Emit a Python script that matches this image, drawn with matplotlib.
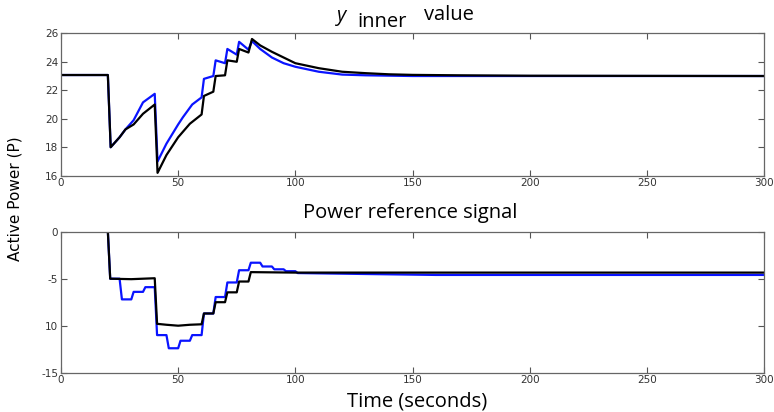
import matplotlib
matplotlib.use("Agg")
import matplotlib.pyplot as plt
import numpy as np

# top panel: y_inner value
t_top_black = [0, 20, 21.2, 25, 27.5, 31, 35, 40, 41.2, 45, 50, 55, 60, 61, 65, 66, 70, 71, 75, 76, 80, 81.5,
               85, 90, 95, 100, 110, 120, 130, 140, 150, 170, 200, 300]
v_top_black = [23.07, 23.07, 18.0, 18.7, 19.25, 19.6, 20.35, 21.0, 16.2, 17.45, 18.7, 19.65, 20.3, 21.6, 21.9,
               23.0, 23.05, 24.1, 24.0, 24.9, 24.65, 25.6, 25.15, 24.7, 24.3, 23.9, 23.55, 23.3, 23.2, 23.12,
               23.08, 23.05, 23.02, 23.0]

t_top_blue = [0, 20, 21.2, 25, 27.5, 31, 35, 40, 41.2, 45, 50, 52, 56, 60, 61, 65, 66, 70, 71, 75, 76, 80, 81.5,
              85, 90, 95, 100, 110, 120, 130, 150, 200, 300]
v_top_blue = [23.07, 23.07, 18.0, 18.7, 19.25, 19.9, 21.15, 21.75, 17.0, 18.25, 19.6, 20.1, 21.0, 21.5, 22.8,
              23.0, 24.1, 23.9, 24.9, 24.5, 25.4, 24.85, 25.45, 24.9, 24.3, 23.9, 23.65, 23.3, 23.1, 23.05,
              23.0, 23.0, 23.0]

# bottom panel: power reference signal
t_bot_black = [20, 21, 30, 40, 41, 45, 50, 55, 60, 61, 65, 66, 70, 71, 75, 76, 80, 81, 100, 300]
v_bot_black = [0, -5, -5.05, -4.95, -9.8, -9.9, -10.0, -9.9, -9.85, -8.7, -8.7, -7.5, -7.5, -6.45, -6.45,
               -5.3, -5.3, -4.3, -4.35, -4.35]

t_bot_blue = [20, 21, 25, 26, 30, 31, 35, 36, 40, 41, 45, 46, 50, 51, 55, 56, 60, 61, 65, 66, 70, 71, 75,
              76, 80, 81, 85, 86, 90, 91, 95, 96, 100, 101, 130, 160, 300]
v_bot_blue = [0, -5, -5, -7.2, -7.2, -6.4, -6.4, -5.9, -5.9, -11, -11, -12.4, -12.4, -11.6, -11.6, -11, -11,
              -8.7, -8.7, -6.95, -6.95, -5.4, -5.4, -4.1, -4.1, -3.3, -3.3, -3.7, -3.7, -4.0, -4.0, -4.2, -4.2,
              -4.4, -4.5, -4.6, -4.6]

x_ticks = [0, 50, 100, 150, 200, 250, 300]
top_yticks = [16, 18, 20, 22, 24, 26]
bot_yticks = [0, -5, -10, -15]
bot_yticklabels = ["0", "-5", "10", "-15"]

tick_font = ["Liberation Sans Narrow", "DejaVu Sans"]
text_font = ["Open Sans", "DejaVu Sans"]
blue = "#0a14ff"

fig = plt.figure(figsize=(7.74, 4.12), dpi=100)
ax1 = fig.add_axes([0.0788, 0.5735, 0.9083, 0.3457])
ax2 = fig.add_axes([0.0788, 0.0954, 0.9083, 0.3422])

ax1.plot(t_top_blue, v_top_blue, color=blue, lw=1.6)
ax1.plot(t_top_black, v_top_black, color="black", lw=1.6)
ax2.plot(t_bot_blue, v_bot_blue, color=blue, lw=1.6)
ax2.plot(t_bot_black, v_bot_black, color="black", lw=1.6)

ax1.set_ylim(16, 26)
ax1.set_yticks(top_yticks)
ax2.set_ylim(-15, 0)
ax2.set_yticks(bot_yticks)
ax2.set_yticklabels(bot_yticklabels)

for ax in (ax1, ax2):
    ax.set_xlim(0, 300)
    ax.set_xticks(x_ticks)
    ax.tick_params(direction="in", top=True, right=True, length=4, width=0.8,
                   color="#555555", labelsize=7.5, labelcolor="#333333", pad=2)
    for lab in ax.get_xticklabels() + ax.get_yticklabels():
        lab.set_family(tick_font)
    for sp in ax.spines.values():
        sp.set_color("#666666")
        sp.set_linewidth(0.9)

# titles
fig.text(0.435, 0.962, "y", fontsize=14.5, style="italic", family=text_font, ha="left", va="center")
fig.text(0.462, 0.946, "inner", fontsize=14.5, family=text_font, ha="left", va="center")
fig.text(0.548, 0.963, "value", fontsize=14.5, family=text_font, ha="left", va="center")
fig.text(0.530, 0.484, "Power reference signal", fontsize=14.5, family=text_font, ha="center", va="center")
fig.text(0.539, 0.025, "Time (seconds)", fontsize=14.5, family=text_font, ha="center", va="center")
fig.text(0.019, 0.517, "Active Power (P)", fontsize=11, family=tick_font, rotation=90,
         ha="center", va="center")

fig.savefig("out.png", dpi=100)
